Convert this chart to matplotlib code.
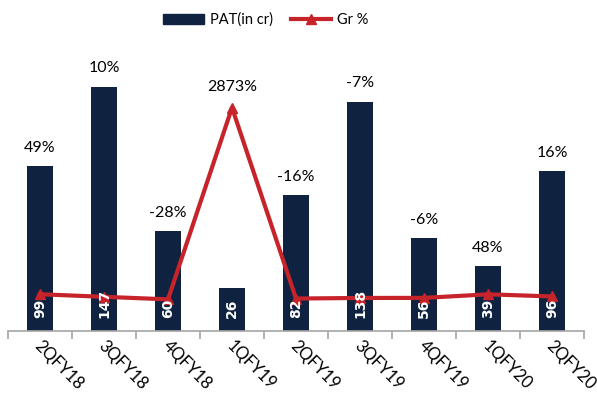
import matplotlib
matplotlib.use("Agg")
import matplotlib.pyplot as plt
import numpy as np
from matplotlib.lines import Line2D
from matplotlib.patches import Patch

plt.rcParams['font.family'] = ['Lato', 'DejaVu Sans']

categories = ["2QFY18", "3QFY18", "4QFY18", "1QFY19", "2QFY19", "3QFY19", "4QFY19", "1QFY20", "2QFY20"]
pat = [99, 147, 60, 26, 82, 138, 56, 39, 96]
growth = [49, 10, -28, 2873, -16, -7, -6, 48, 16]

bar_color = "#0F2340"
line_color = "#C6232B"

fig = plt.figure(figsize=(5.97, 3.94), dpi=100)
ax = fig.add_axes([8/597, 63/394, 576/597, 291/394])
x = np.arange(len(categories))
ax.bar(x, pat, width=0.42, color=bar_color, zorder=2)
ax.set_xlim(-0.5, len(categories) - 0.5)
ax.set_ylim(0, 175)
for s in ["top", "right", "left"]:
    ax.spines[s].set_visible(False)
ax.spines["bottom"].set_color("#A6A6A6")
ax.spines["bottom"].set_linewidth(1.2)
ax.set_yticks([])
ax.set_xticks(x)
ax.set_xticklabels([])
ax.tick_params(axis="x", which="major", length=0)
ax.set_xticks(np.arange(-0.5, len(categories)), minor=True)
ax.tick_params(axis="x", which="minor", length=6, color="#A6A6A6", width=1.2)

for xi, c in zip(x, categories):
    ax.annotate(c, xy=(xi, 0), xycoords=("data", "axes fraction"),
                xytext=(-2, -9), textcoords="offset points",
                rotation=-45, rotation_mode="anchor", ha="left", va="center",
                fontsize=12, color="#000000")

ax2 = ax.twinx()
ax2.set_ylim(-507, 3896)
ax2.axis("off")
ax2.plot(x, growth, color=line_color, lw=3, marker="^", markersize=7, zorder=3)

for xi, v in zip(x, pat):
    ax2.annotate(str(v), xy=(xi, 0), xycoords=ax.transData, xytext=(0, 9.5),
                 textcoords="offset points", rotation=90, ha="center", va="bottom",
                 color="white", fontsize=10, fontweight="bold", family="DejaVu Sans",
                 zorder=5)

for xi, g, v in zip(x, growth, pat):
    if g > 1000:
        ax2.annotate(f"{g}%", xy=(xi, g), xytext=(0, 10), textcoords="offset points",
                     ha="center", va="bottom", fontsize=11.5)
    else:
        ax.annotate(f"{g}%", xy=(xi, v), xytext=(0, 8), textcoords="offset points",
                    ha="center", va="bottom", fontsize=11.5)

handles = [Patch(facecolor=bar_color, edgecolor=bar_color),
           Line2D([0], [0], color=line_color, lw=3, marker="^", markersize=7)]
fig.legend(handles, ["PAT(in cr)", "Gr %"], loc="center", bbox_to_anchor=(266/597, 1 - 20/394),
           ncol=2, frameon=False, fontsize=10.5, handlelength=2.8, columnspacing=1.2,
           handletextpad=0.4)

fig.savefig("out.png", dpi=100)
